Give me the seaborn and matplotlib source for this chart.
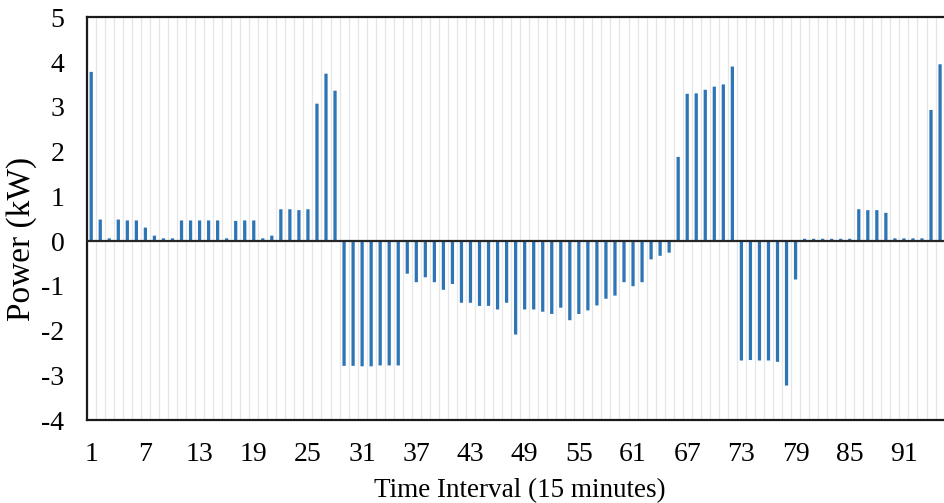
import matplotlib
matplotlib.use("Agg")
import matplotlib.pyplot as plt
import seaborn as sns
import pandas as pd
import numpy as np

# Net power per 15-minute interval (kW)
intervals = list(range(1, 96))
power_kw = [
    3.78, 0.48, 0.06, 0.48, 0.46, 0.46, 0.30, 0.12, 0.06, 0.06,
    0.46, 0.46, 0.46, 0.46, 0.46, 0.06, 0.45, 0.46, 0.46, 0.06,
    0.12, 0.71, 0.71, 0.69, 0.71, 3.07, 3.74, 3.36, -2.79, -2.79,
    -2.80, -2.80, -2.78, -2.78, -2.78, -0.73, -0.92, -0.81, -0.92, -1.09,
    -0.96, -1.38, -1.38, -1.45, -1.45, -1.53, -1.38, -2.09, -1.53, -1.53,
    -1.58, -1.63, -1.49, -1.77, -1.63, -1.55, -1.44, -1.29, -1.22, -0.92,
    -1.01, -0.92, -0.41, -0.33, -0.26, 1.88, 3.29, 3.30, 3.38, 3.45,
    3.50, 3.90, -2.67, -2.66, -2.67, -2.67, -2.70, -3.23, -0.86, 0.05,
    0.05, 0.05, 0.05, 0.05, 0.05, 0.71, 0.69, 0.69, 0.63, 0.06,
    0.06, 0.06, 0.06, 2.93, 3.95,
]
n_slots = 96
xtick_labels = [str(v) for v in range(1, 92, 6)]
ytick_values = list(range(-4, 6))

df = pd.DataFrame({"interval": intervals, "power": power_kw})

sns.set_theme(style="white")
plt.rcParams["font.family"] = ["Liberation Serif", "DejaVu Serif"]
plt.rcParams["axes.unicode_minus"] = False
plt.rcParams["text.color"] = "black"
plt.rcParams["axes.labelcolor"] = "black"

fig = plt.figure(figsize=(9.45, 5.03), dpi=100)
left = 86.7 / 945
right = 953.6 / 945
bottom = 1 - 420 / 503
top = 1 - 17.3 / 503
ax = fig.add_axes([left, bottom, right - left, top - bottom])

sns.barplot(data=df, x="interval", y="power", color="#2E75B6",
            saturation=1, width=0.36, ax=ax, zorder=3,
            linewidth=0, edgecolor="none")
for patch in ax.patches:
    patch.set_snap(False)

ax.set_xlim(-0.5, n_slots - 0.5)
ax.set_ylim(-4, 5)

# light vertical gridlines on category boundaries
ax.set_xticks(np.arange(-0.5, n_slots, 1.0), minor=True)
ax.grid(which="minor", axis="x", color="#e6e6e6", linewidth=0.9, zorder=0)
ax.grid(which="major", visible=False)

ax.set_xticks(range(0, 91, 6))
ax.set_xticklabels(xtick_labels)
ax.set_yticks(ytick_values)
ax.set_yticklabels([str(v) for v in ytick_values])
ax.tick_params(axis="both", which="both", length=0, labelsize=20, pad=16,
               colors="black")

ax.axhline(0, color="#262626", linewidth=1.6, zorder=4)

for side in ["left", "bottom", "top", "right"]:
    ax.spines[side].set_visible(True)
    ax.spines[side].set_color("#1a1a1a")
    ax.spines[side].set_linewidth(1.6)

ax.set_xlabel("Time Interval (15 minutes)", fontsize=19.5, labelpad=8,
              color="black")
ax.set_ylabel("Power (kW)", fontsize=24, color="black")
axes_w = 953.6 - 86.7
ax.yaxis.set_label_coords(-(86.7 - 37) / axes_w, 0.45)

fig.savefig("out.png", dpi=100)
